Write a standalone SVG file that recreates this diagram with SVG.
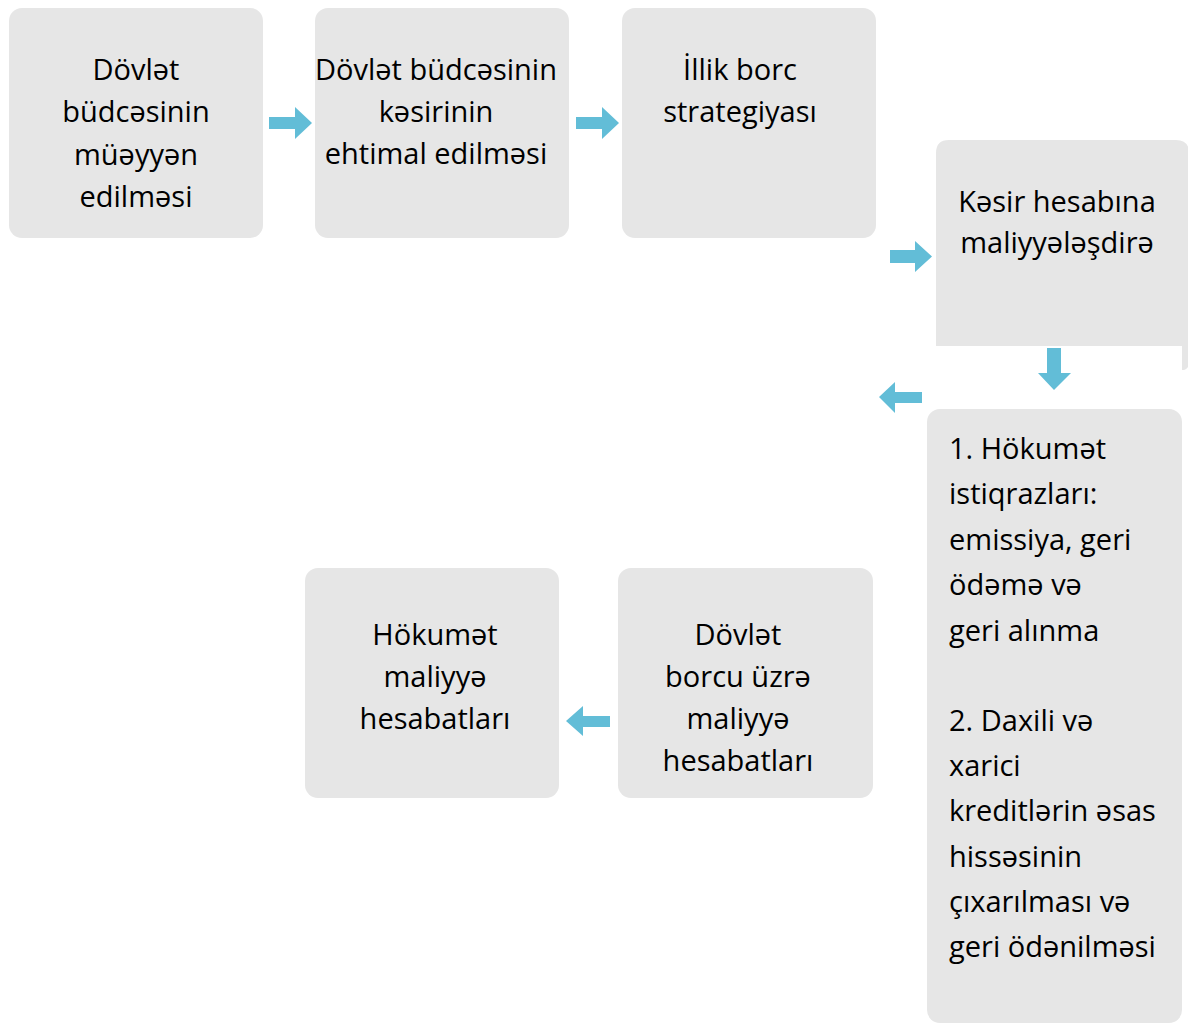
<svg xmlns="http://www.w3.org/2000/svg" width="1188" height="1025" viewBox="0 0 1188 1025">
<style>
.box{fill:#e6e6e6}
.arr{fill:#62bdd7}
text{font-family:"Open Sans","Noto Sans",sans-serif;font-size:29px;fill:#000}
.c{text-anchor:middle}
</style>
<rect width="1188" height="1025" fill="#fff"/>
<g id="n1"><rect class="box" x="9" y="8" width="254" height="230" rx="13"/>
<text class="c" x="136" y="80">Dövlət</text><text class="c" x="136" y="122">büdcəsinin</text><text class="c" x="136" y="165">müəyyən</text><text class="c" x="136" y="207">edilməsi</text></g>
<g id="n2"><rect class="box" x="315" y="8" width="254" height="230" rx="13"/>
<text class="c" x="436" y="80">Dövlət büdcəsinin</text><text class="c" x="436" y="122">kəsirinin</text><text class="c" x="436" y="164">ehtimal edilməsi</text></g>
<g id="n3"><rect class="box" x="622" y="8" width="254" height="230" rx="13"/>
<text class="c" x="740" y="80">İllik borc</text><text class="c" x="740" y="122">strategiyası</text></g>
<g id="n4"><path class="box" d="M949 140 H1176 Q1189 140 1189 153 V362 Q1189 370 1182 370 V346 H936 V153 Q936 140 949 140 Z"/>
<text class="c" x="1057" y="212">Kəsir hesabına</text><text class="c" x="1057" y="253">maliyyələşdirə</text></g>
<g id="n5"><rect class="box" x="927" y="409" width="255" height="614" rx="13"/>
<text x="949" y="459">1. Hökumət</text><text x="949" y="504">istiqrazları:</text><text x="949" y="550">emissiya, geri</text><text x="949" y="595">ödəmə və</text><text x="949" y="641">geri alınma</text>
<text x="949" y="731">2. Daxili və</text><text x="949" y="776">xarici</text><text x="949" y="821">kreditlərin əsas</text><text x="949" y="867">hissəsinin</text><text x="949" y="912">çıxarılması və</text><text x="949" y="957">geri ödənilməsi</text></g>
<g id="n6"><rect class="box" x="618" y="568" width="255" height="230" rx="13"/>
<text class="c" x="738" y="645">Dövlət</text><text class="c" x="738" y="687">borcu üzrə</text><text class="c" x="738" y="729">maliyyə</text><text class="c" x="738" y="771">hesabatları</text></g>
<g id="n7"><rect class="box" x="305" y="568" width="254" height="230" rx="13"/>
<text class="c" x="435" y="645">Hökumət</text><text class="c" x="435" y="687">maliyyə</text><text class="c" x="435" y="729">hesabatları</text></g>
<g id="connectors">
<path class="arr" d="M269 117 H295 V107 L312 123 L295 139 V129 H269 Z"/>
<path class="arr" d="M576 117 H602 V107 L619 123 L602 139 V129 H576 Z"/>
<path class="arr" d="M890 250 H915 V241 L932 256.5 L915 272 V263 H890 Z"/>
<path class="arr" d="M1047 348 H1061 V373 H1071 L1054 390 L1038 373 H1047 Z"/>
<path class="arr" d="M922 392 H895 V382 L879 397 L895 413 V403 H922 Z"/>
<path class="arr" d="M610 716 H583 V706 L566 721 L583 736 V727 H610 Z"/>
</g>
</svg>
